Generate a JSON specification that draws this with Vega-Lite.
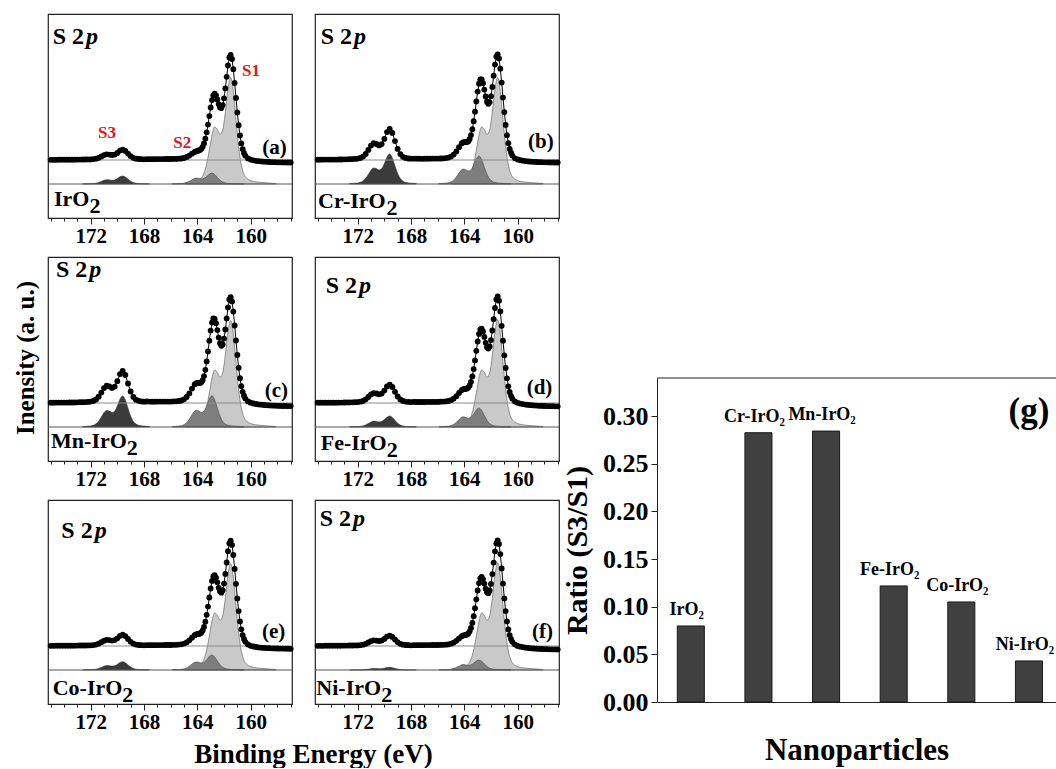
{
"$schema":"https://vega.github.io/schema/vega-lite/v6.json",
"padding":{"left":13,"top":13,"right":0,"bottom":0},
"background":"white",
"config":{"font":"Liberation Serif","view":{"stroke":"#222","strokeWidth":1.2},"header":{"labels":false,"title":null,"labelFontSize":0,"labelPadding":0,"titlePadding":0},"headerFacet":{"labels":false,"title":null,"labelFontSize":0,"labelPadding":0,"titlePadding":0}},
"spacing":0,
"hconcat":[
{
"title":{"text":"Binding Energy (eV)","orient":"bottom","anchor":"middle","offset":9,"dx":26,"font":"Liberation Serif","fontSize":27,"fontWeight":"bold","color":"black"},
"vconcat":[
{
"title":{"text":"Inensity (a. u.)","orient":"left","anchor":"middle","offset":8,"dx":15,"font":"Liberation Serif","fontSize":25,"fontWeight":"bold","color":"black"},
"data":{"values":[
{"p":"a","e":175,"y":58.2},{"p":"a","e":174.8,"y":58.2},{"p":"a","e":174.6,"y":58.2},{"p":"a","e":174.4,"y":58.3},{"p":"a","e":174.2,"y":58.3},{"p":"a","e":174,"y":58.3},{"p":"a","e":173.8,"y":58.3},{"p":"a","e":173.6,"y":58.3},{"p":"a","e":173.4,"y":58.3},{"p":"a","e":173.2,"y":58.3},{"p":"a","e":173,"y":58.4},{"p":"a","e":172.8,"y":58.4},{"p":"a","e":172.6,"y":58.5},{"p":"a","e":172.4,"y":58.5},{"p":"a","e":172.2,"y":58.6},{"p":"a","e":172,"y":58.6},{"p":"a","e":171.8,"y":58.9},{"p":"a","e":171.6,"y":59.3},{"p":"a","e":171.4,"y":60.2},{"p":"a","e":171.2,"y":61.5},{"p":"a","e":171,"y":62.9},{"p":"a","e":170.8,"y":63.7},{"p":"a","e":170.6,"y":63.4},{"p":"a","e":170.4,"y":63},{"p":"a","e":170.2,"y":63.4},{"p":"a","e":170,"y":65.1},{"p":"a","e":169.8,"y":67.4},{"p":"a","e":169.6,"y":68.4},{"p":"a","e":169.4,"y":67.1},{"p":"a","e":169.2,"y":64.4},{"p":"a","e":169,"y":61.9},{"p":"a","e":168.8,"y":60.2},{"p":"a","e":168.6,"y":59.3},{"p":"a","e":168.4,"y":59},{"p":"a","e":168.2,"y":58.8},{"p":"a","e":168,"y":58.7},{"p":"a","e":167.8,"y":58.8},{"p":"a","e":167.6,"y":58.8},{"p":"a","e":167.4,"y":58.8},{"p":"a","e":167.2,"y":58.8},{"p":"a","e":167,"y":58.9},{"p":"a","e":166.8,"y":58.9},{"p":"a","e":166.6,"y":58.9},{"p":"a","e":166.4,"y":59},{"p":"a","e":166.2,"y":59},{"p":"a","e":166,"y":59},{"p":"a","e":165.8,"y":59.1},{"p":"a","e":165.6,"y":59.1},{"p":"a","e":165.4,"y":59.3},{"p":"a","e":165.2,"y":59.5},{"p":"a","e":165,"y":60},{"p":"a","e":164.8,"y":61},{"p":"a","e":164.6,"y":62.4},{"p":"a","e":164.4,"y":64.3},{"p":"a","e":164.2,"y":66.1},
{"p":"a","e":164.1,"y":66.7},{"p":"a","e":164,"y":67.1},{"p":"a","e":163.9,"y":67.5},{"p":"a","e":163.8,"y":68.1},{"p":"a","e":163.7,"y":69.2},{"p":"a","e":163.6,"y":71.2},{"p":"a","e":163.5,"y":74.5},{"p":"a","e":163.4,"y":79.3},{"p":"a","e":163.3,"y":85.7},{"p":"a","e":163.2,"y":93.4},{"p":"a","e":163.1,"y":101.9},{"p":"a","e":163,"y":110.5},{"p":"a","e":162.9,"y":117.9},{"p":"a","e":162.8,"y":122.7},{"p":"a","e":162.7,"y":124.4},{"p":"a","e":162.6,"y":122.6},{"p":"a","e":162.5,"y":118.6},{"p":"a","e":162.4,"y":113.9},{"p":"a","e":162.3,"y":110.6},{"p":"a","e":162.2,"y":110},{"p":"a","e":162.1,"y":112.9},{"p":"a","e":162,"y":119.7},{"p":"a","e":161.9,"y":129.6},{"p":"a","e":161.8,"y":141.2},{"p":"a","e":161.7,"y":152.5},{"p":"a","e":161.6,"y":160.6},{"p":"a","e":161.5,"y":163.1},{"p":"a","e":161.4,"y":159},{"p":"a","e":161.3,"y":148.8},{"p":"a","e":161.2,"y":135},{"p":"a","e":161.1,"y":120.1},{"p":"a","e":161,"y":105.5},{"p":"a","e":160.9,"y":92.8},{"p":"a","e":160.8,"y":82.5},{"p":"a","e":160.7,"y":74.6},{"p":"a","e":160.6,"y":68.9},{"p":"a","e":160.5,"y":65.1},
{"p":"a","e":160.4,"y":62.3},{"p":"a","e":160.2,"y":59.6},{"p":"a","e":160,"y":58.4},{"p":"a","e":159.8,"y":57.7},{"p":"a","e":159.6,"y":57.2},{"p":"a","e":159.4,"y":56.8},{"p":"a","e":159.2,"y":56.6},{"p":"a","e":159,"y":56.3},{"p":"a","e":158.8,"y":56.2},{"p":"a","e":158.6,"y":56},{"p":"a","e":158.4,"y":55.9},{"p":"a","e":158.2,"y":55.8},{"p":"a","e":158,"y":55.7},{"p":"a","e":157.8,"y":55.7},{"p":"a","e":157.6,"y":55.6},{"p":"a","e":157.4,"y":55.6},{"p":"a","e":157.2,"y":55.5},{"p":"a","e":157,"y":55.5},
{"p":"b","e":175,"y":58.3},{"p":"b","e":174.8,"y":58.3},{"p":"b","e":174.6,"y":58.4},{"p":"b","e":174.4,"y":58.4},{"p":"b","e":174.2,"y":58.4},{"p":"b","e":174,"y":58.4},{"p":"b","e":173.8,"y":58.4},{"p":"b","e":173.6,"y":58.4},{"p":"b","e":173.4,"y":58.5},{"p":"b","e":173.2,"y":58.5},{"p":"b","e":173,"y":58.7},{"p":"b","e":172.8,"y":58.7},{"p":"b","e":172.6,"y":58.8},{"p":"b","e":172.4,"y":58.9},{"p":"b","e":172.2,"y":59.1},{"p":"b","e":172,"y":59.4},{"p":"b","e":171.8,"y":60},{"p":"b","e":171.6,"y":61.4},{"p":"b","e":171.4,"y":64.1},{"p":"b","e":171.2,"y":68.1},{"p":"b","e":171,"y":72.4},{"p":"b","e":170.8,"y":74.8},{"p":"b","e":170.6,"y":74.1},{"p":"b","e":170.4,"y":72.6},{"p":"b","e":170.2,"y":73.9},{"p":"b","e":170,"y":79.1},{"p":"b","e":169.8,"y":85.9},{"p":"b","e":169.6,"y":89.1},{"p":"b","e":169.4,"y":85.1},{"p":"b","e":169.2,"y":76.9},{"p":"b","e":169,"y":69.1},{"p":"b","e":168.8,"y":63.9},{"p":"b","e":168.6,"y":61.2},{"p":"b","e":168.4,"y":60.1},{"p":"b","e":168.2,"y":59.5},{"p":"b","e":168,"y":59.3},{"p":"b","e":167.8,"y":59.4},{"p":"b","e":167.6,"y":59.3},{"p":"b","e":167.4,"y":59.3},{"p":"b","e":167.2,"y":59.2},{"p":"b","e":167,"y":59.3},{"p":"b","e":166.8,"y":59.3},{"p":"b","e":166.6,"y":59.3},{"p":"b","e":166.4,"y":59.4},{"p":"b","e":166.2,"y":59.4},{"p":"b","e":166,"y":59.4},{"p":"b","e":165.8,"y":59.5},{"p":"b","e":165.6,"y":59.6},{"p":"b","e":165.4,"y":59.9},{"p":"b","e":165.2,"y":60.4},{"p":"b","e":165,"y":61.4},{"p":"b","e":164.8,"y":63.4},{"p":"b","e":164.6,"y":66.6},{"p":"b","e":164.4,"y":70.8},{"p":"b","e":164.2,"y":74.6},
{"p":"b","e":164.1,"y":75.5},{"p":"b","e":164,"y":75.9},{"p":"b","e":163.9,"y":75.9},{"p":"b","e":163.8,"y":76},{"p":"b","e":163.7,"y":76.8},{"p":"b","e":163.6,"y":79},{"p":"b","e":163.5,"y":82.9},{"p":"b","e":163.4,"y":88.8},{"p":"b","e":163.3,"y":96.8},{"p":"b","e":163.2,"y":106.3},{"p":"b","e":163.1,"y":116.6},{"p":"b","e":163,"y":126.4},{"p":"b","e":162.9,"y":134.3},{"p":"b","e":162.8,"y":138.5},{"p":"b","e":162.7,"y":138.6},{"p":"b","e":162.6,"y":134.8},{"p":"b","e":162.5,"y":128.4},{"p":"b","e":162.4,"y":121.5},{"p":"b","e":162.3,"y":116.3},{"p":"b","e":162.2,"y":114.2},{"p":"b","e":162.1,"y":115.9},{"p":"b","e":162,"y":121.8},{"p":"b","e":161.9,"y":131.1},{"p":"b","e":161.8,"y":142.3},{"p":"b","e":161.7,"y":153.4},{"p":"b","e":161.6,"y":161.3},{"p":"b","e":161.5,"y":163.7},{"p":"b","e":161.4,"y":159.5},{"p":"b","e":161.3,"y":149.3},{"p":"b","e":161.2,"y":135.4},{"p":"b","e":161.1,"y":120.4},{"p":"b","e":161,"y":105.9},{"p":"b","e":160.9,"y":93.1},{"p":"b","e":160.8,"y":82.8},{"p":"b","e":160.7,"y":74.8},{"p":"b","e":160.6,"y":69.1},{"p":"b","e":160.5,"y":65.3},
{"p":"b","e":160.4,"y":62.4},{"p":"b","e":160.2,"y":59.7},{"p":"b","e":160,"y":58.5},{"p":"b","e":159.8,"y":57.8},{"p":"b","e":159.6,"y":57.3},{"p":"b","e":159.4,"y":56.9},{"p":"b","e":159.2,"y":56.6},{"p":"b","e":159,"y":56.3},{"p":"b","e":158.8,"y":56.2},{"p":"b","e":158.6,"y":56},{"p":"b","e":158.4,"y":55.9},{"p":"b","e":158.2,"y":55.8},{"p":"b","e":158,"y":55.7},{"p":"b","e":157.8,"y":55.7},{"p":"b","e":157.6,"y":55.6},{"p":"b","e":157.4,"y":55.6},{"p":"b","e":157.2,"y":55.5},{"p":"b","e":157,"y":55.5},
{"p":"c","e":175,"y":58.3},{"p":"c","e":174.8,"y":58.3},{"p":"c","e":174.6,"y":58.4},{"p":"c","e":174.4,"y":58.4},{"p":"c","e":174.2,"y":58.4},{"p":"c","e":174,"y":58.4},{"p":"c","e":173.8,"y":58.4},{"p":"c","e":173.6,"y":58.5},{"p":"c","e":173.4,"y":58.5},{"p":"c","e":173.2,"y":58.5},{"p":"c","e":173,"y":58.7},{"p":"c","e":172.8,"y":58.8},{"p":"c","e":172.6,"y":58.8},{"p":"c","e":172.4,"y":58.9},{"p":"c","e":172.2,"y":59.1},{"p":"c","e":172,"y":59.4},{"p":"c","e":171.8,"y":60.1},{"p":"c","e":171.6,"y":61.5},{"p":"c","e":171.4,"y":64.3},{"p":"c","e":171.2,"y":68.4},{"p":"c","e":171,"y":72.9},{"p":"c","e":170.8,"y":75.3},{"p":"c","e":170.6,"y":74.6},{"p":"c","e":170.4,"y":73.1},{"p":"c","e":170.2,"y":74.4},{"p":"c","e":170,"y":79.8},{"p":"c","e":169.8,"y":86.9},{"p":"c","e":169.6,"y":90.2},{"p":"c","e":169.4,"y":86},{"p":"c","e":169.2,"y":77.5},{"p":"c","e":169,"y":69.5},{"p":"c","e":168.8,"y":64.1},{"p":"c","e":168.6,"y":61.3},{"p":"c","e":168.4,"y":60.2},{"p":"c","e":168.2,"y":59.6},{"p":"c","e":168,"y":59.3},{"p":"c","e":167.8,"y":59.5},{"p":"c","e":167.6,"y":59.4},{"p":"c","e":167.4,"y":59.3},{"p":"c","e":167.2,"y":59.3},{"p":"c","e":167,"y":59.4},{"p":"c","e":166.8,"y":59.4},{"p":"c","e":166.6,"y":59.4},{"p":"c","e":166.4,"y":59.4},{"p":"c","e":166.2,"y":59.4},{"p":"c","e":166,"y":59.4},{"p":"c","e":165.8,"y":59.6},{"p":"c","e":165.6,"y":59.7},{"p":"c","e":165.4,"y":60},{"p":"c","e":165.2,"y":60.5},{"p":"c","e":165,"y":61.7},{"p":"c","e":164.8,"y":64},{"p":"c","e":164.6,"y":67.6},{"p":"c","e":164.4,"y":72.4},{"p":"c","e":164.2,"y":76.7},
{"p":"c","e":164.1,"y":77.7},{"p":"c","e":164,"y":78.1},{"p":"c","e":163.9,"y":78},{"p":"c","e":163.8,"y":78},{"p":"c","e":163.7,"y":78.7},{"p":"c","e":163.6,"y":80.9},{"p":"c","e":163.5,"y":84.9},{"p":"c","e":163.4,"y":91.2},{"p":"c","e":163.3,"y":99.6},{"p":"c","e":163.2,"y":109.5},{"p":"c","e":163.1,"y":120.3},{"p":"c","e":163,"y":130.4},{"p":"c","e":162.9,"y":138.4},{"p":"c","e":162.8,"y":142.5},{"p":"c","e":162.7,"y":142.2},{"p":"c","e":162.6,"y":137.8},{"p":"c","e":162.5,"y":130.9},{"p":"c","e":162.4,"y":123.4},{"p":"c","e":162.3,"y":117.8},{"p":"c","e":162.2,"y":115.2},{"p":"c","e":162.1,"y":116.6},{"p":"c","e":162,"y":122.3},{"p":"c","e":161.9,"y":131.5},{"p":"c","e":161.8,"y":142.6},{"p":"c","e":161.7,"y":153.6},{"p":"c","e":161.6,"y":161.5},{"p":"c","e":161.5,"y":163.8},{"p":"c","e":161.4,"y":159.6},{"p":"c","e":161.3,"y":149.4},{"p":"c","e":161.2,"y":135.5},{"p":"c","e":161.1,"y":120.5},{"p":"c","e":161,"y":106},{"p":"c","e":160.9,"y":93.2},{"p":"c","e":160.8,"y":82.8},{"p":"c","e":160.7,"y":74.9},{"p":"c","e":160.6,"y":69.2},{"p":"c","e":160.5,"y":65.3},
{"p":"c","e":160.4,"y":62.4},{"p":"c","e":160.2,"y":59.6},{"p":"c","e":160,"y":58.3},{"p":"c","e":159.8,"y":57.5},{"p":"c","e":159.6,"y":57},{"p":"c","e":159.4,"y":56.6},{"p":"c","e":159.2,"y":56.3},{"p":"c","e":159,"y":56},{"p":"c","e":158.8,"y":55.8},{"p":"c","e":158.6,"y":55.6},{"p":"c","e":158.4,"y":55.4},{"p":"c","e":158.2,"y":55.3},{"p":"c","e":158,"y":55.2},{"p":"c","e":157.8,"y":55.1},{"p":"c","e":157.6,"y":55},{"p":"c","e":157.4,"y":55},{"p":"c","e":157.2,"y":54.9},{"p":"c","e":157,"y":54.9},
{"p":"d","e":175,"y":58.3},{"p":"d","e":174.8,"y":58.3},{"p":"d","e":174.6,"y":58.3},{"p":"d","e":174.4,"y":58.3},{"p":"d","e":174.2,"y":58.3},{"p":"d","e":174,"y":58.3},{"p":"d","e":173.8,"y":58.3},{"p":"d","e":173.6,"y":58.3},{"p":"d","e":173.4,"y":58.4},{"p":"d","e":173.2,"y":58.4},{"p":"d","e":173,"y":58.5},{"p":"d","e":172.8,"y":58.6},{"p":"d","e":172.6,"y":58.6},{"p":"d","e":172.4,"y":58.7},{"p":"d","e":172.2,"y":58.8},{"p":"d","e":172,"y":58.9},{"p":"d","e":171.8,"y":59.3},{"p":"d","e":171.6,"y":60.1},{"p":"d","e":171.4,"y":61.7},{"p":"d","e":171.2,"y":64},{"p":"d","e":171,"y":66.5},{"p":"d","e":170.8,"y":67.9},{"p":"d","e":170.6,"y":67.5},{"p":"d","e":170.4,"y":66.7},{"p":"d","e":170.2,"y":67.4},{"p":"d","e":170,"y":70.4},{"p":"d","e":169.8,"y":74.5},{"p":"d","e":169.6,"y":76.3},{"p":"d","e":169.4,"y":74},{"p":"d","e":169.2,"y":69.2},{"p":"d","e":169,"y":64.6},{"p":"d","e":168.8,"y":61.6},{"p":"d","e":168.6,"y":60.1},{"p":"d","e":168.4,"y":59.4},{"p":"d","e":168.2,"y":59.1},{"p":"d","e":168,"y":58.9},{"p":"d","e":167.8,"y":59.1},{"p":"d","e":167.6,"y":59},{"p":"d","e":167.4,"y":59},{"p":"d","e":167.2,"y":59},{"p":"d","e":167,"y":59},{"p":"d","e":166.8,"y":59.1},{"p":"d","e":166.6,"y":59.1},{"p":"d","e":166.4,"y":59.1},{"p":"d","e":166.2,"y":59.1},{"p":"d","e":166,"y":59.1},{"p":"d","e":165.8,"y":59.3},{"p":"d","e":165.6,"y":59.4},{"p":"d","e":165.4,"y":59.6},{"p":"d","e":165.2,"y":60},{"p":"d","e":165,"y":60.8},{"p":"d","e":164.8,"y":62.4},{"p":"d","e":164.6,"y":64.8},{"p":"d","e":164.4,"y":68},{"p":"d","e":164.2,"y":70.9},
{"p":"d","e":164.1,"y":71.7},{"p":"d","e":164,"y":72},{"p":"d","e":163.9,"y":72.2},{"p":"d","e":163.8,"y":72.5},{"p":"d","e":163.7,"y":73.5},{"p":"d","e":163.6,"y":75.6},{"p":"d","e":163.5,"y":79.2},{"p":"d","e":163.4,"y":84.6},{"p":"d","e":163.3,"y":91.9},{"p":"d","e":163.2,"y":100.6},{"p":"d","e":163.1,"y":110.2},{"p":"d","e":163,"y":119.5},{"p":"d","e":162.9,"y":127.1},{"p":"d","e":162.8,"y":131.6},{"p":"d","e":162.7,"y":132.4},{"p":"d","e":162.6,"y":129.5},{"p":"d","e":162.5,"y":124.1},{"p":"d","e":162.4,"y":118.2},{"p":"d","e":162.3,"y":113.8},{"p":"d","e":162.2,"y":112.4},{"p":"d","e":162.1,"y":114.6},{"p":"d","e":162,"y":120.9},{"p":"d","e":161.9,"y":130.5},{"p":"d","e":161.8,"y":141.8},{"p":"d","e":161.7,"y":153},{"p":"d","e":161.6,"y":161.5},{"p":"d","e":161.5,"y":164.6},{"p":"d","e":161.4,"y":160.3},{"p":"d","e":161.3,"y":149.6},{"p":"d","e":161.2,"y":135.2},{"p":"d","e":161.1,"y":120.3},{"p":"d","e":161,"y":105.7},{"p":"d","e":160.9,"y":93},{"p":"d","e":160.8,"y":82.7},{"p":"d","e":160.7,"y":74.7},{"p":"d","e":160.6,"y":69},{"p":"d","e":160.5,"y":65.2},
{"p":"d","e":160.4,"y":62.3},{"p":"d","e":160.2,"y":59.5},{"p":"d","e":160,"y":58.2},{"p":"d","e":159.8,"y":57.4},{"p":"d","e":159.6,"y":56.9},{"p":"d","e":159.4,"y":56.4},{"p":"d","e":159.2,"y":56.1},{"p":"d","e":159,"y":55.8},{"p":"d","e":158.8,"y":55.6},{"p":"d","e":158.6,"y":55.4},{"p":"d","e":158.4,"y":55.2},{"p":"d","e":158.2,"y":55.1},{"p":"d","e":158,"y":55},{"p":"d","e":157.8,"y":54.9},{"p":"d","e":157.6,"y":54.8},{"p":"d","e":157.4,"y":54.8},{"p":"d","e":157.2,"y":54.7},{"p":"d","e":157,"y":54.7},
{"p":"e","e":175,"y":58.2},{"p":"e","e":174.8,"y":58.2},{"p":"e","e":174.6,"y":58.3},{"p":"e","e":174.4,"y":58.3},{"p":"e","e":174.2,"y":58.3},{"p":"e","e":174,"y":58.3},{"p":"e","e":173.8,"y":58.3},{"p":"e","e":173.6,"y":58.3},{"p":"e","e":173.4,"y":58.3},{"p":"e","e":173.2,"y":58.3},{"p":"e","e":173,"y":58.4},{"p":"e","e":172.8,"y":58.5},{"p":"e","e":172.6,"y":58.5},{"p":"e","e":172.4,"y":58.5},{"p":"e","e":172.2,"y":58.6},{"p":"e","e":172,"y":58.7},{"p":"e","e":171.8,"y":58.9},{"p":"e","e":171.6,"y":59.4},{"p":"e","e":171.4,"y":60.4},{"p":"e","e":171.2,"y":61.8},{"p":"e","e":171,"y":63.3},{"p":"e","e":170.8,"y":64.2},{"p":"e","e":170.6,"y":63.9},{"p":"e","e":170.4,"y":63.4},{"p":"e","e":170.2,"y":63.9},{"p":"e","e":170,"y":65.7},{"p":"e","e":169.8,"y":68.2},{"p":"e","e":169.6,"y":69.4},{"p":"e","e":169.4,"y":67.9},{"p":"e","e":169.2,"y":65},{"p":"e","e":169,"y":62.2},{"p":"e","e":168.8,"y":60.4},{"p":"e","e":168.6,"y":59.4},{"p":"e","e":168.4,"y":59},{"p":"e","e":168.2,"y":58.8},{"p":"e","e":168,"y":58.7},{"p":"e","e":167.8,"y":58.9},{"p":"e","e":167.6,"y":58.8},{"p":"e","e":167.4,"y":58.8},{"p":"e","e":167.2,"y":58.8},{"p":"e","e":167,"y":58.9},{"p":"e","e":166.8,"y":58.9},{"p":"e","e":166.6,"y":58.9},{"p":"e","e":166.4,"y":59},{"p":"e","e":166.2,"y":59},{"p":"e","e":166,"y":59},{"p":"e","e":165.8,"y":59.2},{"p":"e","e":165.6,"y":59.2},{"p":"e","e":165.4,"y":59.4},{"p":"e","e":165.2,"y":59.7},{"p":"e","e":165,"y":60.4},{"p":"e","e":164.8,"y":61.7},{"p":"e","e":164.6,"y":63.7},{"p":"e","e":164.4,"y":66.3},{"p":"e","e":164.2,"y":68.8},
{"p":"e","e":164.1,"y":69.5},{"p":"e","e":164,"y":69.9},{"p":"e","e":163.9,"y":70.1},{"p":"e","e":163.8,"y":70.5},{"p":"e","e":163.7,"y":71.5},{"p":"e","e":163.6,"y":73.6},{"p":"e","e":163.5,"y":77.1},{"p":"e","e":163.4,"y":82.3},{"p":"e","e":163.3,"y":89.2},{"p":"e","e":163.2,"y":97.4},{"p":"e","e":163.1,"y":106.5},{"p":"e","e":163,"y":115.5},{"p":"e","e":162.9,"y":123},{"p":"e","e":162.8,"y":127.7},{"p":"e","e":162.7,"y":128.8},{"p":"e","e":162.6,"y":126.4},{"p":"e","e":162.5,"y":121.7},{"p":"e","e":162.4,"y":116.2},{"p":"e","e":162.3,"y":112.4},{"p":"e","e":162.2,"y":111.3},{"p":"e","e":162.1,"y":113.8},{"p":"e","e":162,"y":120.4},{"p":"e","e":161.9,"y":130.1},{"p":"e","e":161.8,"y":141.5},{"p":"e","e":161.7,"y":152.8},{"p":"e","e":161.6,"y":160.8},{"p":"e","e":161.5,"y":163.3},{"p":"e","e":161.4,"y":159.1},{"p":"e","e":161.3,"y":149},{"p":"e","e":161.2,"y":135.1},{"p":"e","e":161.1,"y":120.2},{"p":"e","e":161,"y":105.6},{"p":"e","e":160.9,"y":92.9},{"p":"e","e":160.8,"y":82.6},{"p":"e","e":160.7,"y":74.7},{"p":"e","e":160.6,"y":68.9},{"p":"e","e":160.5,"y":65.1},
{"p":"e","e":160.4,"y":62.2},{"p":"e","e":160.2,"y":59.5},{"p":"e","e":160,"y":58.2},{"p":"e","e":159.8,"y":57.5},{"p":"e","e":159.6,"y":57},{"p":"e","e":159.4,"y":56.6},{"p":"e","e":159.2,"y":56.3},{"p":"e","e":159,"y":56.1},{"p":"e","e":158.8,"y":55.9},{"p":"e","e":158.6,"y":55.8},{"p":"e","e":158.4,"y":55.7},{"p":"e","e":158.2,"y":55.6},{"p":"e","e":158,"y":55.5},{"p":"e","e":157.8,"y":55.4},{"p":"e","e":157.6,"y":55.4},{"p":"e","e":157.4,"y":55.3},{"p":"e","e":157.2,"y":55.3},{"p":"e","e":157,"y":55.2},
{"p":"f","e":175,"y":58.2},{"p":"f","e":174.8,"y":58.2},{"p":"f","e":174.6,"y":58.2},{"p":"f","e":174.4,"y":58.3},{"p":"f","e":174.2,"y":58.3},{"p":"f","e":174,"y":58.3},{"p":"f","e":173.8,"y":58.3},{"p":"f","e":173.6,"y":58.3},{"p":"f","e":173.4,"y":58.3},{"p":"f","e":173.2,"y":58.3},{"p":"f","e":173,"y":58.4},{"p":"f","e":172.8,"y":58.4},{"p":"f","e":172.6,"y":58.5},{"p":"f","e":172.4,"y":58.5},{"p":"f","e":172.2,"y":58.6},{"p":"f","e":172,"y":58.6},{"p":"f","e":171.8,"y":58.9},{"p":"f","e":171.6,"y":59.3},{"p":"f","e":171.4,"y":60.2},{"p":"f","e":171.2,"y":61.5},{"p":"f","e":171,"y":62.9},{"p":"f","e":170.8,"y":63.7},{"p":"f","e":170.6,"y":63.4},{"p":"f","e":170.4,"y":63},{"p":"f","e":170.2,"y":63.4},{"p":"f","e":170,"y":65.1},{"p":"f","e":169.8,"y":67.4},{"p":"f","e":169.6,"y":68.4},{"p":"f","e":169.4,"y":67.1},{"p":"f","e":169.2,"y":64.4},{"p":"f","e":169,"y":61.9},{"p":"f","e":168.8,"y":60.2},{"p":"f","e":168.6,"y":59.3},{"p":"f","e":168.4,"y":59},{"p":"f","e":168.2,"y":58.8},{"p":"f","e":168,"y":58.7},{"p":"f","e":167.8,"y":58.8},{"p":"f","e":167.6,"y":58.8},{"p":"f","e":167.4,"y":58.8},{"p":"f","e":167.2,"y":58.8},{"p":"f","e":167,"y":58.9},{"p":"f","e":166.8,"y":58.9},{"p":"f","e":166.6,"y":58.9},{"p":"f","e":166.4,"y":59},{"p":"f","e":166.2,"y":59},{"p":"f","e":166,"y":59},{"p":"f","e":165.8,"y":59.1},{"p":"f","e":165.6,"y":59.2},{"p":"f","e":165.4,"y":59.3},{"p":"f","e":165.2,"y":59.6},{"p":"f","e":165,"y":60.3},{"p":"f","e":164.8,"y":61.4},{"p":"f","e":164.6,"y":63.2},{"p":"f","e":164.4,"y":65.5},{"p":"f","e":164.2,"y":67.7},
{"p":"f","e":164.1,"y":68.4},{"p":"f","e":164,"y":68.8},{"p":"f","e":163.9,"y":69.1},{"p":"f","e":163.8,"y":69.5},{"p":"f","e":163.7,"y":70.6},{"p":"f","e":163.6,"y":72.7},{"p":"f","e":163.5,"y":76.1},{"p":"f","e":163.4,"y":81.1},{"p":"f","e":163.3,"y":87.8},{"p":"f","e":163.2,"y":95.8},{"p":"f","e":163.1,"y":104.7},{"p":"f","e":163,"y":113.5},{"p":"f","e":162.9,"y":120.9},{"p":"f","e":162.8,"y":125.7},{"p":"f","e":162.7,"y":127.1},{"p":"f","e":162.6,"y":124.9},{"p":"f","e":162.5,"y":120.4},{"p":"f","e":162.4,"y":115.3},{"p":"f","e":162.3,"y":111.7},{"p":"f","e":162.2,"y":110.8},{"p":"f","e":162.1,"y":113.5},{"p":"f","e":162,"y":120.1},{"p":"f","e":161.9,"y":129.9},{"p":"f","e":161.8,"y":141.4},{"p":"f","e":161.7,"y":152.7},{"p":"f","e":161.6,"y":160.7},{"p":"f","e":161.5,"y":163.7},{"p":"f","e":161.4,"y":160.1},{"p":"f","e":161.3,"y":149.9},{"p":"f","e":161.2,"y":135.6},{"p":"f","e":161.1,"y":120.4},{"p":"f","e":161,"y":105.6},{"p":"f","e":160.9,"y":92.9},{"p":"f","e":160.8,"y":82.6},{"p":"f","e":160.7,"y":74.6},{"p":"f","e":160.6,"y":68.9},{"p":"f","e":160.5,"y":65.1},
{"p":"f","e":160.4,"y":62.2},{"p":"f","e":160.2,"y":59.4},{"p":"f","e":160,"y":58.1},{"p":"f","e":159.8,"y":57.3},{"p":"f","e":159.6,"y":56.8},{"p":"f","e":159.4,"y":56.3},{"p":"f","e":159.2,"y":56},{"p":"f","e":159,"y":55.7},{"p":"f","e":158.8,"y":55.5},{"p":"f","e":158.6,"y":55.3},{"p":"f","e":158.4,"y":55.1},{"p":"f","e":158.2,"y":55},{"p":"f","e":158,"y":54.9},{"p":"f","e":157.8,"y":54.8},{"p":"f","e":157.6,"y":54.7},{"p":"f","e":157.4,"y":54.7},{"p":"f","e":157.2,"y":54.6},{"p":"f","e":157,"y":54.6},

{"p":"a","k":"s1","e":164.9,"y":35.3},{"p":"a","k":"s1","e":164.7,"y":35.5},{"p":"a","k":"s1","e":164.5,"y":35.8},{"p":"a","k":"s1","e":164.3,"y":36.2},{"p":"a","k":"s1","e":164.1,"y":36.7},{"p":"a","k":"s1","e":163.9,"y":37.7},{"p":"a","k":"s1","e":163.7,"y":39.9},{"p":"a","k":"s1","e":163.5,"y":44.8},{"p":"a","k":"s1","e":163.3,"y":54.1},{"p":"a","k":"s1","e":163.1,"y":67.9},{"p":"a","k":"s1","e":162.9,"y":82.9},{"p":"a","k":"s1","e":162.7,"y":91.1},{"p":"a","k":"s1","e":162.5,"y":88.6},{"p":"a","k":"s1","e":162.3,"y":83.7},{"p":"a","k":"s1","e":162.1,"y":88.1},{"p":"a","k":"s1","e":161.9,"y":106},{"p":"a","k":"s1","e":161.7,"y":129.5},{"p":"a","k":"s1","e":161.5,"y":140.5},{"p":"a","k":"s1","e":161.3,"y":126.6},{"p":"a","k":"s1","e":161.1,"y":98.1},{"p":"a","k":"s1","e":160.9,"y":71.1},{"p":"a","k":"s1","e":160.7,"y":53.1},{"p":"a","k":"s1","e":160.5,"y":43.8},{"p":"a","k":"s1","e":160.3,"y":39.8},{"p":"a","k":"s1","e":160.1,"y":37.9},{"p":"a","k":"s1","e":159.9,"y":37},{"p":"a","k":"s1","e":159.7,"y":36.4},{"p":"a","k":"s1","e":159.5,"y":36},{"p":"a","k":"s1","e":159.3,"y":35.7},{"p":"a","k":"s1","e":159.1,"y":35.5},{"p":"a","k":"s1","e":158.9,"y":35.3},{"p":"a","k":"s1","e":158.7,"y":35.1},{"p":"a","k":"s1","e":158.5,"y":34.9},{"p":"a","k":"s1","e":158.3,"y":34.7},{"p":"a","k":"s1","e":158.1,"y":34.5},
{"p":"b","k":"s1","e":164.9,"y":35.3},{"p":"b","k":"s1","e":164.7,"y":35.5},{"p":"b","k":"s1","e":164.5,"y":35.8},{"p":"b","k":"s1","e":164.3,"y":36.2},{"p":"b","k":"s1","e":164.1,"y":36.7},{"p":"b","k":"s1","e":163.9,"y":37.7},{"p":"b","k":"s1","e":163.7,"y":39.9},{"p":"b","k":"s1","e":163.5,"y":44.8},{"p":"b","k":"s1","e":163.3,"y":54.1},{"p":"b","k":"s1","e":163.1,"y":67.9},{"p":"b","k":"s1","e":162.9,"y":82.9},{"p":"b","k":"s1","e":162.7,"y":91.1},{"p":"b","k":"s1","e":162.5,"y":88.6},{"p":"b","k":"s1","e":162.3,"y":83.7},{"p":"b","k":"s1","e":162.1,"y":88.1},{"p":"b","k":"s1","e":161.9,"y":106},{"p":"b","k":"s1","e":161.7,"y":129.5},{"p":"b","k":"s1","e":161.5,"y":140.5},{"p":"b","k":"s1","e":161.3,"y":126.6},{"p":"b","k":"s1","e":161.1,"y":98.1},{"p":"b","k":"s1","e":160.9,"y":71.1},{"p":"b","k":"s1","e":160.7,"y":53.1},{"p":"b","k":"s1","e":160.5,"y":43.8},{"p":"b","k":"s1","e":160.3,"y":39.8},{"p":"b","k":"s1","e":160.1,"y":37.9},{"p":"b","k":"s1","e":159.9,"y":37},{"p":"b","k":"s1","e":159.7,"y":36.4},{"p":"b","k":"s1","e":159.5,"y":36},{"p":"b","k":"s1","e":159.3,"y":35.7},{"p":"b","k":"s1","e":159.1,"y":35.5},{"p":"b","k":"s1","e":158.9,"y":35.3},{"p":"b","k":"s1","e":158.7,"y":35.1},{"p":"b","k":"s1","e":158.5,"y":34.9},{"p":"b","k":"s1","e":158.3,"y":34.7},{"p":"b","k":"s1","e":158.1,"y":34.5},
{"p":"c","k":"s1","e":164.9,"y":35.3},{"p":"c","k":"s1","e":164.7,"y":35.5},{"p":"c","k":"s1","e":164.5,"y":35.8},{"p":"c","k":"s1","e":164.3,"y":36.2},{"p":"c","k":"s1","e":164.1,"y":36.7},{"p":"c","k":"s1","e":163.9,"y":37.7},{"p":"c","k":"s1","e":163.7,"y":39.9},{"p":"c","k":"s1","e":163.5,"y":44.8},{"p":"c","k":"s1","e":163.3,"y":54.1},{"p":"c","k":"s1","e":163.1,"y":67.9},{"p":"c","k":"s1","e":162.9,"y":82.9},{"p":"c","k":"s1","e":162.7,"y":91.1},{"p":"c","k":"s1","e":162.5,"y":88.6},{"p":"c","k":"s1","e":162.3,"y":83.7},{"p":"c","k":"s1","e":162.1,"y":88.1},{"p":"c","k":"s1","e":161.9,"y":106},{"p":"c","k":"s1","e":161.7,"y":129.5},{"p":"c","k":"s1","e":161.5,"y":140.5},{"p":"c","k":"s1","e":161.3,"y":126.6},{"p":"c","k":"s1","e":161.1,"y":98.1},{"p":"c","k":"s1","e":160.9,"y":71.1},{"p":"c","k":"s1","e":160.7,"y":53.1},{"p":"c","k":"s1","e":160.5,"y":43.8},{"p":"c","k":"s1","e":160.3,"y":39.8},{"p":"c","k":"s1","e":160.1,"y":37.9},{"p":"c","k":"s1","e":159.9,"y":37},{"p":"c","k":"s1","e":159.7,"y":36.4},{"p":"c","k":"s1","e":159.5,"y":36},{"p":"c","k":"s1","e":159.3,"y":35.7},{"p":"c","k":"s1","e":159.1,"y":35.5},{"p":"c","k":"s1","e":158.9,"y":35.3},{"p":"c","k":"s1","e":158.7,"y":35.1},{"p":"c","k":"s1","e":158.5,"y":34.9},{"p":"c","k":"s1","e":158.3,"y":34.7},{"p":"c","k":"s1","e":158.1,"y":34.5},
{"p":"d","k":"s1","e":164.9,"y":35.3},{"p":"d","k":"s1","e":164.7,"y":35.5},{"p":"d","k":"s1","e":164.5,"y":35.8},{"p":"d","k":"s1","e":164.3,"y":36.2},{"p":"d","k":"s1","e":164.1,"y":36.7},{"p":"d","k":"s1","e":163.9,"y":37.7},{"p":"d","k":"s1","e":163.7,"y":39.9},{"p":"d","k":"s1","e":163.5,"y":44.8},{"p":"d","k":"s1","e":163.3,"y":54.1},{"p":"d","k":"s1","e":163.1,"y":67.9},{"p":"d","k":"s1","e":162.9,"y":82.9},{"p":"d","k":"s1","e":162.7,"y":91.1},{"p":"d","k":"s1","e":162.5,"y":88.6},{"p":"d","k":"s1","e":162.3,"y":83.7},{"p":"d","k":"s1","e":162.1,"y":88.1},{"p":"d","k":"s1","e":161.9,"y":106},{"p":"d","k":"s1","e":161.7,"y":129.5},{"p":"d","k":"s1","e":161.5,"y":141.5},{"p":"d","k":"s1","e":161.3,"y":127.6},{"p":"d","k":"s1","e":161.1,"y":98.1},{"p":"d","k":"s1","e":160.9,"y":71.1},{"p":"d","k":"s1","e":160.7,"y":53.1},{"p":"d","k":"s1","e":160.5,"y":43.8},{"p":"d","k":"s1","e":160.3,"y":39.8},{"p":"d","k":"s1","e":160.1,"y":37.9},{"p":"d","k":"s1","e":159.9,"y":37},{"p":"d","k":"s1","e":159.7,"y":36.4},{"p":"d","k":"s1","e":159.5,"y":36},{"p":"d","k":"s1","e":159.3,"y":35.7},{"p":"d","k":"s1","e":159.1,"y":35.5},{"p":"d","k":"s1","e":158.9,"y":35.3},{"p":"d","k":"s1","e":158.7,"y":35.1},{"p":"d","k":"s1","e":158.5,"y":34.9},{"p":"d","k":"s1","e":158.3,"y":34.7},{"p":"d","k":"s1","e":158.1,"y":34.5},
{"p":"e","k":"s1","e":164.9,"y":35.3},{"p":"e","k":"s1","e":164.7,"y":35.5},{"p":"e","k":"s1","e":164.5,"y":35.8},{"p":"e","k":"s1","e":164.3,"y":36.2},{"p":"e","k":"s1","e":164.1,"y":36.7},{"p":"e","k":"s1","e":163.9,"y":37.7},{"p":"e","k":"s1","e":163.7,"y":39.9},{"p":"e","k":"s1","e":163.5,"y":44.8},{"p":"e","k":"s1","e":163.3,"y":54.1},{"p":"e","k":"s1","e":163.1,"y":67.9},{"p":"e","k":"s1","e":162.9,"y":82.9},{"p":"e","k":"s1","e":162.7,"y":91.1},{"p":"e","k":"s1","e":162.5,"y":88.6},{"p":"e","k":"s1","e":162.3,"y":83.7},{"p":"e","k":"s1","e":162.1,"y":88.1},{"p":"e","k":"s1","e":161.9,"y":106},{"p":"e","k":"s1","e":161.7,"y":129.5},{"p":"e","k":"s1","e":161.5,"y":140.5},{"p":"e","k":"s1","e":161.3,"y":126.6},{"p":"e","k":"s1","e":161.1,"y":98.1},{"p":"e","k":"s1","e":160.9,"y":71.1},{"p":"e","k":"s1","e":160.7,"y":53.1},{"p":"e","k":"s1","e":160.5,"y":43.8},{"p":"e","k":"s1","e":160.3,"y":39.8},{"p":"e","k":"s1","e":160.1,"y":37.9},{"p":"e","k":"s1","e":159.9,"y":37},{"p":"e","k":"s1","e":159.7,"y":36.4},{"p":"e","k":"s1","e":159.5,"y":36},{"p":"e","k":"s1","e":159.3,"y":35.7},{"p":"e","k":"s1","e":159.1,"y":35.5},{"p":"e","k":"s1","e":158.9,"y":35.3},{"p":"e","k":"s1","e":158.7,"y":35.1},{"p":"e","k":"s1","e":158.5,"y":34.9},{"p":"e","k":"s1","e":158.3,"y":34.7},{"p":"e","k":"s1","e":158.1,"y":34.5},
{"p":"f","k":"s1","e":164.9,"y":35.3},{"p":"f","k":"s1","e":164.7,"y":35.5},{"p":"f","k":"s1","e":164.5,"y":35.8},{"p":"f","k":"s1","e":164.3,"y":36.2},{"p":"f","k":"s1","e":164.1,"y":36.7},{"p":"f","k":"s1","e":163.9,"y":37.7},{"p":"f","k":"s1","e":163.7,"y":39.9},{"p":"f","k":"s1","e":163.5,"y":44.8},{"p":"f","k":"s1","e":163.3,"y":54.1},{"p":"f","k":"s1","e":163.1,"y":67.9},{"p":"f","k":"s1","e":162.9,"y":82.9},{"p":"f","k":"s1","e":162.7,"y":91.1},{"p":"f","k":"s1","e":162.5,"y":88.6},{"p":"f","k":"s1","e":162.3,"y":83.7},{"p":"f","k":"s1","e":162.1,"y":88.1},{"p":"f","k":"s1","e":161.9,"y":106},{"p":"f","k":"s1","e":161.7,"y":129.5},{"p":"f","k":"s1","e":161.5,"y":141},{"p":"f","k":"s1","e":161.3,"y":127},{"p":"f","k":"s1","e":161.1,"y":98.1},{"p":"f","k":"s1","e":160.9,"y":71.1},{"p":"f","k":"s1","e":160.7,"y":53.1},{"p":"f","k":"s1","e":160.5,"y":43.8},{"p":"f","k":"s1","e":160.3,"y":39.8},{"p":"f","k":"s1","e":160.1,"y":37.9},{"p":"f","k":"s1","e":159.9,"y":37},{"p":"f","k":"s1","e":159.7,"y":36.4},{"p":"f","k":"s1","e":159.5,"y":36},{"p":"f","k":"s1","e":159.3,"y":35.7},{"p":"f","k":"s1","e":159.1,"y":35.5},{"p":"f","k":"s1","e":158.9,"y":35.3},{"p":"f","k":"s1","e":158.7,"y":35.1},{"p":"f","k":"s1","e":158.5,"y":34.9},{"p":"f","k":"s1","e":158.3,"y":34.7},{"p":"f","k":"s1","e":158.1,"y":34.5},

{"p":"a","k":"s2","e":165.9,"y":34.2},{"p":"a","k":"s2","e":165.7,"y":34.2},{"p":"a","k":"s2","e":165.5,"y":34.3},{"p":"a","k":"s2","e":165.3,"y":34.4},{"p":"a","k":"s2","e":165.1,"y":34.6},{"p":"a","k":"s2","e":164.9,"y":35.1},{"p":"a","k":"s2","e":164.7,"y":36.1},{"p":"a","k":"s2","e":164.5,"y":37.5},{"p":"a","k":"s2","e":164.3,"y":39},{"p":"a","k":"s2","e":164.1,"y":39.9},{"p":"a","k":"s2","e":163.9,"y":39.6},{"p":"a","k":"s2","e":163.7,"y":39.1},{"p":"a","k":"s2","e":163.5,"y":39.6},{"p":"a","k":"s2","e":163.3,"y":41.4},{"p":"a","k":"s2","e":163.1,"y":43.8},{"p":"a","k":"s2","e":162.9,"y":45},{"p":"a","k":"s2","e":162.7,"y":43.5},{"p":"a","k":"s2","e":162.5,"y":40.6},{"p":"a","k":"s2","e":162.3,"y":37.8},{"p":"a","k":"s2","e":162.1,"y":36},{"p":"a","k":"s2","e":161.9,"y":35},{"p":"a","k":"s2","e":161.7,"y":34.6},{"p":"a","k":"s2","e":161.5,"y":34.4},{"p":"a","k":"s2","e":161.3,"y":34.3},{"p":"a","k":"s2","e":161.1,"y":34.2},{"p":"a","k":"s2","e":160.9,"y":34.2},{"p":"a","k":"s2","e":160.7,"y":34.2},{"p":"a","k":"s2","e":160.5,"y":34.1},
{"p":"b","k":"s2","e":165.9,"y":34.5},{"p":"b","k":"s2","e":165.7,"y":34.6},{"p":"b","k":"s2","e":165.5,"y":34.7},{"p":"b","k":"s2","e":165.3,"y":35},{"p":"b","k":"s2","e":165.1,"y":35.6},{"p":"b","k":"s2","e":164.9,"y":36.8},{"p":"b","k":"s2","e":164.7,"y":39.3},{"p":"b","k":"s2","e":164.5,"y":42.9},{"p":"b","k":"s2","e":164.3,"y":46.8},{"p":"b","k":"s2","e":164.1,"y":49},{"p":"b","k":"s2","e":163.9,"y":48.3},{"p":"b","k":"s2","e":163.7,"y":47},{"p":"b","k":"s2","e":163.5,"y":48.2},{"p":"b","k":"s2","e":163.3,"y":52.9},{"p":"b","k":"s2","e":163.1,"y":59.1},{"p":"b","k":"s2","e":162.9,"y":62},{"p":"b","k":"s2","e":162.7,"y":58.3},{"p":"b","k":"s2","e":162.5,"y":50.8},{"p":"b","k":"s2","e":162.3,"y":43.7},{"p":"b","k":"s2","e":162.1,"y":39},{"p":"b","k":"s2","e":161.9,"y":36.6},{"p":"b","k":"s2","e":161.7,"y":35.6},{"p":"b","k":"s2","e":161.5,"y":35},{"p":"b","k":"s2","e":161.3,"y":34.8},{"p":"b","k":"s2","e":161.1,"y":34.6},{"p":"b","k":"s2","e":160.9,"y":34.5},{"p":"b","k":"s2","e":160.7,"y":34.4},{"p":"b","k":"s2","e":160.5,"y":34.4},
{"p":"c","k":"s2","e":165.9,"y":34.5},{"p":"c","k":"s2","e":165.7,"y":34.6},{"p":"c","k":"s2","e":165.5,"y":34.8},{"p":"c","k":"s2","e":165.3,"y":35.1},{"p":"c","k":"s2","e":165.1,"y":35.7},{"p":"c","k":"s2","e":164.9,"y":37.2},{"p":"c","k":"s2","e":164.7,"y":39.9},{"p":"c","k":"s2","e":164.5,"y":43.9},{"p":"c","k":"s2","e":164.3,"y":48.3},{"p":"c","k":"s2","e":164.1,"y":50.7},{"p":"c","k":"s2","e":163.9,"y":50},{"p":"c","k":"s2","e":163.7,"y":48.6},{"p":"c","k":"s2","e":163.5,"y":49.9},{"p":"c","k":"s2","e":163.3,"y":55.1},{"p":"c","k":"s2","e":163.1,"y":62},{"p":"c","k":"s2","e":162.9,"y":65.2},{"p":"c","k":"s2","e":162.7,"y":61.1},{"p":"c","k":"s2","e":162.5,"y":52.8},{"p":"c","k":"s2","e":162.3,"y":44.9},{"p":"c","k":"s2","e":162.1,"y":39.6},{"p":"c","k":"s2","e":161.9,"y":36.9},{"p":"c","k":"s2","e":161.7,"y":35.7},{"p":"c","k":"s2","e":161.5,"y":35.2},{"p":"c","k":"s2","e":161.3,"y":34.9},{"p":"c","k":"s2","e":161.1,"y":34.7},{"p":"c","k":"s2","e":160.9,"y":34.6},{"p":"c","k":"s2","e":160.7,"y":34.5},{"p":"c","k":"s2","e":160.5,"y":34.4},
{"p":"d","k":"s2","e":165.9,"y":34.3},{"p":"d","k":"s2","e":165.7,"y":34.4},{"p":"d","k":"s2","e":165.5,"y":34.5},{"p":"d","k":"s2","e":165.3,"y":34.7},{"p":"d","k":"s2","e":165.1,"y":35.1},{"p":"d","k":"s2","e":164.9,"y":35.9},{"p":"d","k":"s2","e":164.7,"y":37.6},{"p":"d","k":"s2","e":164.5,"y":40},{"p":"d","k":"s2","e":164.3,"y":42.7},{"p":"d","k":"s2","e":164.1,"y":44.2},{"p":"d","k":"s2","e":163.9,"y":43.7},{"p":"d","k":"s2","e":163.7,"y":42.8},{"p":"d","k":"s2","e":163.5,"y":43.6},{"p":"d","k":"s2","e":163.3,"y":46.8},{"p":"d","k":"s2","e":163.1,"y":51},{"p":"d","k":"s2","e":162.9,"y":53},{"p":"d","k":"s2","e":162.7,"y":50.5},{"p":"d","k":"s2","e":162.5,"y":45.4},{"p":"d","k":"s2","e":162.3,"y":40.6},{"p":"d","k":"s2","e":162.1,"y":37.4},{"p":"d","k":"s2","e":161.9,"y":35.7},{"p":"d","k":"s2","e":161.7,"y":35.1},{"p":"d","k":"s2","e":161.5,"y":34.7},{"p":"d","k":"s2","e":161.3,"y":34.5},{"p":"d","k":"s2","e":161.1,"y":34.4},{"p":"d","k":"s2","e":160.9,"y":34.4},{"p":"d","k":"s2","e":160.7,"y":34.3},{"p":"d","k":"s2","e":160.5,"y":34.3},
{"p":"e","k":"s2","e":165.9,"y":34.3},{"p":"e","k":"s2","e":165.7,"y":34.3},{"p":"e","k":"s2","e":165.5,"y":34.4},{"p":"e","k":"s2","e":165.3,"y":34.5},{"p":"e","k":"s2","e":165.1,"y":34.8},{"p":"e","k":"s2","e":164.9,"y":35.5},{"p":"e","k":"s2","e":164.7,"y":36.8},{"p":"e","k":"s2","e":164.5,"y":38.8},{"p":"e","k":"s2","e":164.3,"y":40.9},{"p":"e","k":"s2","e":164.1,"y":42},{"p":"e","k":"s2","e":163.9,"y":41.7},{"p":"e","k":"s2","e":163.7,"y":41},{"p":"e","k":"s2","e":163.5,"y":41.6},{"p":"e","k":"s2","e":163.3,"y":44.1},{"p":"e","k":"s2","e":163.1,"y":47.4},{"p":"e","k":"s2","e":162.9,"y":49},{"p":"e","k":"s2","e":162.7,"y":47},{"p":"e","k":"s2","e":162.5,"y":43},{"p":"e","k":"s2","e":162.3,"y":39.2},{"p":"e","k":"s2","e":162.1,"y":36.7},{"p":"e","k":"s2","e":161.9,"y":35.4},{"p":"e","k":"s2","e":161.7,"y":34.8},{"p":"e","k":"s2","e":161.5,"y":34.6},{"p":"e","k":"s2","e":161.3,"y":34.4},{"p":"e","k":"s2","e":161.1,"y":34.3},{"p":"e","k":"s2","e":160.9,"y":34.3},{"p":"e","k":"s2","e":160.7,"y":34.2},{"p":"e","k":"s2","e":160.5,"y":34.2},
{"p":"f","k":"s2","e":165.9,"y":34.2},{"p":"f","k":"s2","e":165.7,"y":34.2},{"p":"f","k":"s2","e":165.5,"y":34.3},{"p":"f","k":"s2","e":165.3,"y":34.4},{"p":"f","k":"s2","e":165.1,"y":34.6},{"p":"f","k":"s2","e":164.9,"y":35},{"p":"f","k":"s2","e":164.7,"y":35.9},{"p":"f","k":"s2","e":164.5,"y":37.2},{"p":"f","k":"s2","e":164.3,"y":38.6},{"p":"f","k":"s2","e":164.1,"y":39.4},{"p":"f","k":"s2","e":163.9,"y":39.1},{"p":"f","k":"s2","e":163.7,"y":38.7},{"p":"f","k":"s2","e":163.5,"y":39.1},{"p":"f","k":"s2","e":163.3,"y":40.8},{"p":"f","k":"s2","e":163.1,"y":43},{"p":"f","k":"s2","e":162.9,"y":44},{"p":"f","k":"s2","e":162.7,"y":42.7},{"p":"f","k":"s2","e":162.5,"y":40},{"p":"f","k":"s2","e":162.3,"y":37.5},{"p":"f","k":"s2","e":162.1,"y":35.8},{"p":"f","k":"s2","e":161.9,"y":34.9},{"p":"f","k":"s2","e":161.7,"y":34.6},{"p":"f","k":"s2","e":161.5,"y":34.4},{"p":"f","k":"s2","e":161.3,"y":34.3},{"p":"f","k":"s2","e":161.1,"y":34.2},{"p":"f","k":"s2","e":160.9,"y":34.2},{"p":"f","k":"s2","e":160.7,"y":34.2},{"p":"f","k":"s2","e":160.5,"y":34.1},

{"p":"a","k":"s3","e":172.6,"y":34.1},{"p":"a","k":"s3","e":172.4,"y":34.2},{"p":"a","k":"s3","e":172.2,"y":34.2},{"p":"a","k":"s3","e":172,"y":34.3},{"p":"a","k":"s3","e":171.8,"y":34.4},{"p":"a","k":"s3","e":171.6,"y":34.8},{"p":"a","k":"s3","e":171.4,"y":35.5},{"p":"a","k":"s3","e":171.2,"y":36.5},{"p":"a","k":"s3","e":171,"y":37.7},{"p":"a","k":"s3","e":170.8,"y":38.3},{"p":"a","k":"s3","e":170.6,"y":38.1},{"p":"a","k":"s3","e":170.4,"y":37.7},{"p":"a","k":"s3","e":170.2,"y":38.1},{"p":"a","k":"s3","e":170,"y":39.4},{"p":"a","k":"s3","e":169.8,"y":41.2},{"p":"a","k":"s3","e":169.6,"y":42},{"p":"a","k":"s3","e":169.4,"y":40.9},{"p":"a","k":"s3","e":169.2,"y":38.8},{"p":"a","k":"s3","e":169,"y":36.8},{"p":"a","k":"s3","e":168.8,"y":35.4},{"p":"a","k":"s3","e":168.6,"y":34.7},{"p":"a","k":"s3","e":168.4,"y":34.4},{"p":"a","k":"s3","e":168.2,"y":34.3},{"p":"a","k":"s3","e":168,"y":34.2},{"p":"a","k":"s3","e":167.8,"y":34.2},{"p":"a","k":"s3","e":167.6,"y":34.1},
{"p":"b","k":"s3","e":172.6,"y":34.5},{"p":"b","k":"s3","e":172.4,"y":34.6},{"p":"b","k":"s3","e":172.2,"y":34.8},{"p":"b","k":"s3","e":172,"y":35},{"p":"b","k":"s3","e":171.8,"y":35.7},{"p":"b","k":"s3","e":171.6,"y":37},{"p":"b","k":"s3","e":171.4,"y":39.7},{"p":"b","k":"s3","e":171.2,"y":43.6},{"p":"b","k":"s3","e":171,"y":47.8},{"p":"b","k":"s3","e":170.8,"y":50.1},{"p":"b","k":"s3","e":170.6,"y":49.4},{"p":"b","k":"s3","e":170.4,"y":48},{"p":"b","k":"s3","e":170.2,"y":49.3},{"p":"b","k":"s3","e":170,"y":54.3},{"p":"b","k":"s3","e":169.8,"y":60.9},{"p":"b","k":"s3","e":169.6,"y":64},{"p":"b","k":"s3","e":169.4,"y":60.1},{"p":"b","k":"s3","e":169.2,"y":52},{"p":"b","k":"s3","e":169,"y":44.5},{"p":"b","k":"s3","e":168.8,"y":39.4},{"p":"b","k":"s3","e":168.6,"y":36.8},{"p":"b","k":"s3","e":168.4,"y":35.7},{"p":"b","k":"s3","e":168.2,"y":35.1},{"p":"b","k":"s3","e":168,"y":34.8},{"p":"b","k":"s3","e":167.8,"y":34.7},{"p":"b","k":"s3","e":167.6,"y":34.6},
{"p":"c","k":"s3","e":172.6,"y":34.5},{"p":"c","k":"s3","e":172.4,"y":34.6},{"p":"c","k":"s3","e":172.2,"y":34.8},{"p":"c","k":"s3","e":172,"y":35.1},{"p":"c","k":"s3","e":171.8,"y":35.7},{"p":"c","k":"s3","e":171.6,"y":37.2},{"p":"c","k":"s3","e":171.4,"y":39.8},{"p":"c","k":"s3","e":171.2,"y":43.9},{"p":"c","k":"s3","e":171,"y":48.2},{"p":"c","k":"s3","e":170.8,"y":50.6},{"p":"c","k":"s3","e":170.6,"y":49.9},{"p":"c","k":"s3","e":170.4,"y":48.5},{"p":"c","k":"s3","e":170.2,"y":49.8},{"p":"c","k":"s3","e":170,"y":55},{"p":"c","k":"s3","e":169.8,"y":61.8},{"p":"c","k":"s3","e":169.6,"y":65},{"p":"c","k":"s3","e":169.4,"y":61},{"p":"c","k":"s3","e":169.2,"y":52.7},{"p":"c","k":"s3","e":169,"y":44.8},{"p":"c","k":"s3","e":168.8,"y":39.6},{"p":"c","k":"s3","e":168.6,"y":36.9},{"p":"c","k":"s3","e":168.4,"y":35.7},{"p":"c","k":"s3","e":168.2,"y":35.2},{"p":"c","k":"s3","e":168,"y":34.9},{"p":"c","k":"s3","e":167.8,"y":34.7},{"p":"c","k":"s3","e":167.6,"y":34.6},
{"p":"d","k":"s3","e":172.6,"y":34.2},{"p":"d","k":"s3","e":172.4,"y":34.2},{"p":"d","k":"s3","e":172.2,"y":34.3},{"p":"d","k":"s3","e":172,"y":34.4},{"p":"d","k":"s3","e":171.8,"y":34.6},{"p":"d","k":"s3","e":171.6,"y":35.1},{"p":"d","k":"s3","e":171.4,"y":36.1},{"p":"d","k":"s3","e":171.2,"y":37.5},{"p":"d","k":"s3","e":171,"y":39},{"p":"d","k":"s3","e":170.8,"y":39.9},{"p":"d","k":"s3","e":170.6,"y":39.6},{"p":"d","k":"s3","e":170.4,"y":39.1},{"p":"d","k":"s3","e":170.2,"y":39.6},{"p":"d","k":"s3","e":170,"y":41.4},{"p":"d","k":"s3","e":169.8,"y":43.8},{"p":"d","k":"s3","e":169.6,"y":45},{"p":"d","k":"s3","e":169.4,"y":43.5},{"p":"d","k":"s3","e":169.2,"y":40.6},{"p":"d","k":"s3","e":169,"y":37.8},{"p":"d","k":"s3","e":168.8,"y":36},{"p":"d","k":"s3","e":168.6,"y":35},{"p":"d","k":"s3","e":168.4,"y":34.6},{"p":"d","k":"s3","e":168.2,"y":34.4},{"p":"d","k":"s3","e":168,"y":34.3},{"p":"d","k":"s3","e":167.8,"y":34.2},{"p":"d","k":"s3","e":167.6,"y":34.2},
{"p":"e","k":"s3","e":172.6,"y":34.1},{"p":"e","k":"s3","e":172.4,"y":34.2},{"p":"e","k":"s3","e":172.2,"y":34.2},{"p":"e","k":"s3","e":172,"y":34.3},{"p":"e","k":"s3","e":171.8,"y":34.5},{"p":"e","k":"s3","e":171.6,"y":34.8},{"p":"e","k":"s3","e":171.4,"y":35.6},{"p":"e","k":"s3","e":171.2,"y":36.6},{"p":"e","k":"s3","e":171,"y":37.8},{"p":"e","k":"s3","e":170.8,"y":38.4},{"p":"e","k":"s3","e":170.6,"y":38.3},{"p":"e","k":"s3","e":170.4,"y":37.9},{"p":"e","k":"s3","e":170.2,"y":38.2},{"p":"e","k":"s3","e":170,"y":39.6},{"p":"e","k":"s3","e":169.8,"y":41.4},{"p":"e","k":"s3","e":169.6,"y":42.3},{"p":"e","k":"s3","e":169.4,"y":41.2},{"p":"e","k":"s3","e":169.2,"y":39},{"p":"e","k":"s3","e":169,"y":36.9},{"p":"e","k":"s3","e":168.8,"y":35.5},{"p":"e","k":"s3","e":168.6,"y":34.8},{"p":"e","k":"s3","e":168.4,"y":34.5},{"p":"e","k":"s3","e":168.2,"y":34.3},{"p":"e","k":"s3","e":168,"y":34.2},{"p":"e","k":"s3","e":167.8,"y":34.2},{"p":"e","k":"s3","e":167.6,"y":34.2},
{"p":"f","k":"s3","e":172.6,"y":34},{"p":"f","k":"s3","e":172.4,"y":34.1},{"p":"f","k":"s3","e":172.2,"y":34.1},{"p":"f","k":"s3","e":172,"y":34.1},{"p":"f","k":"s3","e":171.8,"y":34.1},{"p":"f","k":"s3","e":171.6,"y":34.3},{"p":"f","k":"s3","e":171.4,"y":34.5},{"p":"f","k":"s3","e":171.2,"y":34.8},{"p":"f","k":"s3","e":171,"y":35.2},{"p":"f","k":"s3","e":170.8,"y":35.4},{"p":"f","k":"s3","e":170.6,"y":35.4},{"p":"f","k":"s3","e":170.4,"y":35.2},{"p":"f","k":"s3","e":170.2,"y":35.4},{"p":"f","k":"s3","e":170,"y":35.8},{"p":"f","k":"s3","e":169.8,"y":36.4},{"p":"f","k":"s3","e":169.6,"y":36.7},{"p":"f","k":"s3","e":169.4,"y":36.3},{"p":"f","k":"s3","e":169.2,"y":35.6},{"p":"f","k":"s3","e":169,"y":34.9},{"p":"f","k":"s3","e":168.8,"y":34.5},{"p":"f","k":"s3","e":168.6,"y":34.2},{"p":"f","k":"s3","e":168.4,"y":34.1},{"p":"f","k":"s3","e":168.2,"y":34.1},{"p":"f","k":"s3","e":168,"y":34.1},{"p":"f","k":"s3","e":167.8,"y":34.1},{"p":"f","k":"s3","e":167.6,"y":34},

{"p":"a","k":"h","t":"S 2","e":174.85,"y":174},{"p":"a","k":"hp","t":"p","e":172.35,"y":174},{"p":"a","k":"tag","t":"(a)","e":157.3,"y":64},{"p":"a","k":"nm","t":"IrO","e":174.75,"y":12},{"p":"a","k":"sub","t":"2","e":172.09,"y":5},
{"p":"a","k":"red","t":"S3","e":171.45,"y":80},{"p":"a","k":"red","t":"S2","e":165.8,"y":70},{"p":"a","k":"red","t":"S1","e":160.65,"y":142},
{"p":"b","k":"h","t":"S 2","e":174.77,"y":174},{"p":"b","k":"hp","t":"p","e":172.27,"y":174},{"p":"b","k":"tag","t":"(b)","e":157.3,"y":70},{"p":"b","k":"nm","t":"Cr-IrO","e":174.97,"y":10.5},{"p":"b","k":"sub","t":"2","e":169.84,"y":3.5},
{"p":"c","k":"h","t":"S 2","e":174.6,"y":184},{"p":"c","k":"hp","t":"p","e":172.1,"y":184},{"p":"c","k":"tag","t":"(c)","e":157.2,"y":64},{"p":"c","k":"nm","t":"Mn-IrO","e":174.97,"y":13.3},{"p":"c","k":"sub","t":"2","e":169.29,"y":6.3},
{"p":"d","k":"h","t":"S 2","e":174.4,"y":168},{"p":"d","k":"hp","t":"p","e":171.9,"y":168},{"p":"d","k":"tag","t":"(d)","e":157.4,"y":67},{"p":"d","k":"nm","t":"Fe-IrO","e":174.77,"y":10.7},{"p":"d","k":"sub","t":"2","e":169.82,"y":3.7},
{"p":"e","k":"h","t":"S 2","e":174.2,"y":166},{"p":"e","k":"hp","t":"p","e":171.7,"y":166},{"p":"e","k":"tag","t":"(e)","e":157.4,"y":66},{"p":"e","k":"nm","t":"Co-IrO","e":174.85,"y":9},{"p":"e","k":"sub","t":"2","e":169.63,"y":2},
{"p":"f","k":"h","t":"S 2","e":174.85,"y":178},{"p":"f","k":"hp","t":"p","e":172.35,"y":178},{"p":"f","k":"tag","t":"(f)","e":157.35,"y":66},{"p":"f","k":"nm","t":"Ni-IrO","e":175.1,"y":9},{"p":"f","k":"sub","t":"2","e":170.24,"y":2}
]},
"facet":{"field":"p","type":"nominal","header":{"labels":false,"title":null,"labelFontSize":0,"labelPadding":0,"titlePadding":0,"labelExpr":"''"}},
"columns":2,
"spacing":{"row":39,"column":23},
"bounds":"flush",
"resolve":{"axis":{"x":"independent"}},
"spec":{
"width":244,"height":204,
"encoding":{
"x":{"field":"e","type":"quantitative","scale":{"domain":[156.9,175.2],"reverse":true,"nice":false,"zero":false},
"axis":{"values":[157,158,159,160,161,162,163,164,165,166,167,168,169,170,171,172,173,174,175],"labelExpr":"datum.value % 4 == 0 ? datum.label : ''","tickSize":{"condition":{"test":"datum.value % 4 == 0","value":6},"value":3},"grid":false,"title":null,"labelFont":"Liberation Serif","labelFontSize":21,"labelFontWeight":"bold","labelColor":"black","tickColor":"#222","domainColor":"#222","labelPadding":1,"labelOverlap":false,"labelFlush":false}},
"y":{"field":"y","type":"quantitative","scale":{"domain":[0,204],"nice":false,"zero":false},"axis":null}
},
"layer":[
{"transform":[{"filter":"datum.k=='s1'"}],"mark":{"type":"area","interpolate":"monotone","fill":"#c9c9c9","stroke":"#555","strokeWidth":0.6},"encoding":{"y2":{"datum":34}}},
{"transform":[{"filter":"datum.k=='s2'"}],"mark":{"type":"area","interpolate":"monotone","fill":"#7e7e7e","stroke":"#444","strokeWidth":0.6},"encoding":{"y2":{"datum":34}}},
{"transform":[{"filter":"datum.k=='s3'"}],"mark":{"type":"area","interpolate":"monotone","fill":"#3b3b3b","stroke":"#333","strokeWidth":0.6},"encoding":{"y2":{"datum":34}}},
{"transform":[{"filter":"datum.k=='tag'"}],"mark":{"type":"rule","color":"#8a8a8a","strokeWidth":1},"encoding":{"x":{"datum":175.2},"x2":{"datum":156.9},"y":{"datum":58}}},
{"transform":[{"filter":"datum.k=='tag'"}],"mark":{"type":"rule","color":"#555","strokeWidth":1.2},"encoding":{"x":{"datum":175.2},"x2":{"datum":156.9},"y":{"datum":34}}},
{"transform":[{"filter":"!datum.k"}],"mark":{"type":"line","color":"black","strokeWidth":1}},
{"transform":[{"filter":"!datum.k"}],"mark":{"type":"point","filled":true,"color":"black","opacity":1,"size":34}},
{"transform":[{"filter":"datum.k=='h'"}],"mark":{"type":"text","font":"Liberation Serif","fontSize":24,"fontWeight":"bold","align":"left","baseline":"alphabetic","color":"black"},"encoding":{"text":{"field":"t"}}},
{"transform":[{"filter":"datum.k=='hp'"}],"mark":{"type":"text","font":"Liberation Serif","fontSize":24,"fontWeight":"bold","fontStyle":"italic","align":"left","baseline":"alphabetic","color":"black"},"encoding":{"text":{"field":"t"}}},
{"transform":[{"filter":"datum.k=='tag'"}],"mark":{"type":"text","font":"Liberation Serif","fontSize":21,"fontWeight":"bold","align":"right","baseline":"alphabetic","color":"black"},"encoding":{"text":{"field":"t"}}},
{"transform":[{"filter":"datum.k=='nm'"}],"mark":{"type":"text","font":"Liberation Serif","fontSize":22,"fontWeight":"bold","align":"left","baseline":"alphabetic","color":"black"},"encoding":{"text":{"field":"t"}}},
{"transform":[{"filter":"datum.k=='sub'"}],"mark":{"type":"text","font":"Liberation Serif","fontSize":22,"fontWeight":"bold","align":"left","baseline":"alphabetic","color":"black"},"encoding":{"text":{"field":"t"}}},
{"transform":[{"filter":"datum.k=='red'"}],"mark":{"type":"text","font":"Liberation Serif","fontSize":17,"fontWeight":"bold","align":"left","baseline":"alphabetic","color":"#e3141b"},"encoding":{"text":{"field":"t"}}}
]
}
}
]
},
{
"spacing":0,
"vconcat":[
{"width":20,"height":363,"data":{"values":[]},"mark":"point","view":{"stroke":null}},
{
"width":399,"height":324,
"view":{"stroke":null},
"data":{"values":[
{"n":"IrO₂","v":0.0798},
{"n":"Cr-IrO₂","v":0.2826},
{"n":"Mn-IrO₂","v":0.2843},
{"n":"Fe-IrO₂","v":0.1218},
{"n":"Co-IrO₂","v":0.105},
{"n":"Ni-IrO₂","v":0.0431}
]},
"layer":[
{"mark":{"type":"bar","fill":"#404040","stroke":"#1a1a1a","strokeWidth":1},
"encoding":{
"x":{"field":"n","type":"nominal","sort":null,"scale":{"paddingInner":0.6,"paddingOuter":0.25,"align":0.6},"axis":{"labels":false,"ticks":false,"domainColor":"#222","title":"Nanoparticles","titleFont":"Liberation Serif","titleFontSize":31,"titleFontWeight":"bold","titleColor":"black","titlePadding":33}},
"y":{"field":"v","type":"quantitative","scale":{"domain":[0,0.34],"nice":false},"axis":{"values":[0,0.025,0.05,0.075,0.1,0.125,0.15,0.175,0.2,0.225,0.25,0.275,0.3,0.325],"labelExpr":"round(datum.value*1000) % 50 == 0 ? format(datum.value, '.2f') : ''","tickSize":{"condition":{"test":"round(datum.value*1000) % 50 == 0","value":6},"value":3},"grid":false,"labelFont":"Liberation Serif","labelFontSize":26,"labelFontWeight":"bold","labelColor":"black","domainColor":"#222","tickColor":"#222","labelPadding":3,"labelOverlap":false,"labelFlush":false,"title":"Ratio (S3/S1)","titleFont":"Liberation Serif","titleFontSize":30,"titleFontWeight":"bold","titleColor":"black","titlePadding":10,"titleY":172}}
}},
{"mark":{"type":"text","font":"Liberation Serif","fontSize":18,"fontWeight":"bold","baseline":"alphabetic","dy":-11,"dx":-4,"color":"black"},
"encoding":{"x":{"field":"n","type":"nominal","sort":null},"y":{"field":"v","type":"quantitative"},"text":{"field":"n"}}},
{"data":{"values":[{"t":"(g)"}]},"mark":{"type":"text","font":"Liberation Serif","fontSize":35,"fontWeight":"bold","baseline":"alphabetic","color":"black"},
"encoding":{"x":{"datum":"Ni-IrO₂"},"y":{"datum":0.294},"text":{"field":"t"}}},
{"data":{"values":[{"t":"top"}]},"mark":{"type":"rule","color":"#222","strokeWidth":1},"encoding":{"y":{"datum":0.34}}}
]
}
]
}
]
}
